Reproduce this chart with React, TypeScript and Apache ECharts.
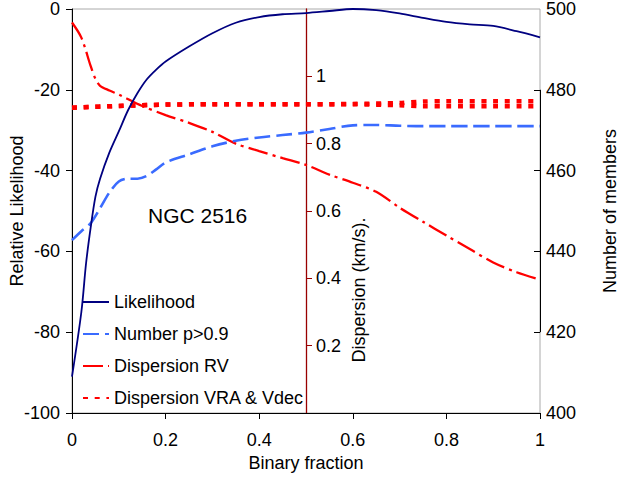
import React, { useEffect, useRef } from "react";
import * as echarts from "echarts";

// Binary fraction sample points
const likeX = [0, 0.02, 0.03, 0.04, 0.05, 0.06, 0.08, 0.1, 0.12, 0.14, 0.16, 0.18, 0.2, 0.25, 0.3, 0.35, 0.4, 0.45, 0.5, 0.55, 0.6, 0.65, 0.7, 0.75, 0.8, 0.85, 0.9, 0.95, 1];
const likeY = [-91, -75, -63, -54, -46.5, -42, -35.5, -30.3, -25, -20.8, -17.4, -15, -13, -9.3, -6, -3.4, -2, -1.3, -1, -0.5, 0, -0.3, -1.1, -2.2, -3.2, -3.8, -4.2, -5.5, -7];

const numX = [0, 0.02, 0.04, 0.06, 0.08, 0.1, 0.12, 0.14, 0.16, 0.18, 0.2, 0.25, 0.3, 0.35, 0.4, 0.45, 0.5, 0.55, 0.6, 0.65, 0.7, 0.75, 0.8, 0.85, 0.9, 0.95, 1];
const numY = [442.8, 445, 447, 450.7, 454.6, 457.3, 458, 458, 458.7, 460.3, 462, 464, 466, 467.4, 468.2, 468.8, 469.4, 470.3, 471.2, 471.3, 471.1, 471, 471, 471, 471, 471, 471];

const rvX = [0, 0.02, 0.04, 0.05, 0.06, 0.08, 0.1, 0.15, 0.2, 0.25, 0.3, 0.35, 0.4, 0.45, 0.5, 0.55, 0.6, 0.65, 0.7, 0.75, 0.8, 0.85, 0.9, 0.95, 1];
const rvY = [1.16, 1.115, 1.03, 0.993, 0.972, 0.958, 0.946, 0.912, 0.885, 0.862, 0.835, 0.8, 0.778, 0.757, 0.737, 0.708, 0.684, 0.657, 0.61, 0.568, 0.527, 0.487, 0.447, 0.418, 0.396];

const vX = [0, 0.1, 0.2, 0.3, 0.4, 0.5, 0.6, 0.7, 0.75, 0.8, 0.9, 1];
const vraY = [0.907, 0.912, 0.916, 0.917, 0.917, 0.917, 0.918, 0.921, 0.925, 0.926, 0.926, 0.926];
const vdecY = [0.907, 0.912, 0.916, 0.917, 0.917, 0.917, 0.917, 0.914, 0.911, 0.911, 0.911, 0.911];

const rightTickValues = [420, 440, 460, 480];
const blackSegment = [420, 480];

const seriesNames = ["Likelihood", "Number p>0.9", "Dispersion RV", "Dispersion VRA & Vdec"];

const zip = (xs: number[], ys: number[]) => xs.map((x, i) => [x, ys[i]]);

const FONT = "'Liberation Sans', Arial, Helvetica, sans-serif";
const FS = 18;

export default function App() {
  const ref = useRef<HTMLDivElement>(null);
  useEffect(() => {
    document.body.style.margin = "0";
    const chart = echarts.init(ref.current!, null, { renderer: "svg" });
    const labelStyle = { color: "#000", fontSize: FS, fontFamily: FONT };
    chart.setOption({
      animation: false,
      backgroundColor: "#fff",
      textStyle: { fontFamily: FONT },
      grid: {
        left: 72, right: 79, top: 9, bottom: 66,
        show: true, borderColor: "#aaaaaa", borderWidth: 1, backgroundColor: "transparent",
        containLabel: false, outerBoundsMode: "none",
      },
      legend: {
        data: seriesNames,
        orient: "vertical",
        left: 77,
        top: 288,
        itemWidth: 26,
        itemHeight: 12,
        itemGap: 14,
        itemStyle: { color: "transparent", borderWidth: 0, opacity: 0 },
        textStyle: { ...labelStyle },
      },
      xAxis: {
        type: "value",
        min: 0,
        max: 1,
        interval: 0.2,
        axisLine: { onZero: false, lineStyle: { color: "#000", width: 1 } },
        axisTick: { length: 6, lineStyle: { color: "#000" } },
        axisLabel: { ...labelStyle, margin: 18 },
        splitLine: { show: false },
        name: "Binary fraction",
        nameLocation: "middle",
        nameGap: 41,
        nameMoveOverlap: false,
        nameTextStyle: { ...labelStyle },
      },
      yAxis: [
        {
          type: "value",
          position: "left",
          min: -100,
          max: 0,
          interval: 20,
          axisLine: { show: true, onZero: false, lineStyle: { color: "#000", width: 1 } },
          axisTick: { show: true, length: 6, lineStyle: { color: "#000" } },
          axisLabel: { ...labelStyle, margin: 12 },
          splitLine: { show: false },
          name: "Relative Likelihood",
          nameLocation: "middle",
          nameGap: 46,
          nameRotate: 90,
          nameMoveOverlap: false,
          nameTextStyle: { ...labelStyle },
        },
        {
          type: "value",
          position: "right",
          min: 400,
          max: 500,
          interval: 20,
          axisLine: { show: false, onZero: false },
          axisTick: { show: true, inside: true, length: 6, customValues: rightTickValues, lineStyle: { color: "#000" } },
          axisLabel: { ...labelStyle, margin: 6 },
          splitLine: { show: false },
          name: "Number of members",
          nameLocation: "middle",
          nameGap: 61,
          nameRotate: 90,
          nameMoveOverlap: false,
          nameTextStyle: { ...labelStyle },
        },
        {
          type: "value",
          position: "right",
          offset: -234,
          min: 0,
          max: 1.2,
          interval: 0.2,
          axisLine: { show: true, onZero: false, lineStyle: { color: "#990000", width: 1.3 } },
          axisTick: { show: true, length: 6, lineStyle: { color: "#990000" } },
          axisLabel: { ...labelStyle, margin: 10, showMinLabel: false, showMaxLabel: false },
          splitLine: { show: false },
        },
      ],
      graphic: [
        {
          type: "text",
          left: 148,
          top: 205,
          style: { text: "NGC 2516", fontSize: 21, fontFamily: FONT, fill: "#000" },
        },
        {
          type: "text",
          x: 359,
          y: 290,
          rotation: Math.PI / 2,
          style: { text: "Dispersion (km/s).", fontSize: FS, fontFamily: FONT, fill: "#000", align: "center", verticalAlign: "middle" },
        },
      ],
      series: [
        {
          name: "Dispersion VRA & Vdec",
          type: "line",
          yAxisIndex: 2,
          data: zip(vX, vraY),
          symbol: "none",
          smooth: 0.3,
          lineStyle: { color: "#ff0000", width: 4.5, type: [5, 6.7] },
          itemStyle: { color: "#ff0000" },
        },
        {
          name: "Dispersion VRA & Vdec",
          type: "line",
          yAxisIndex: 2,
          data: zip(vX, vdecY),
          symbol: "none",
          smooth: 0.3,
          lineStyle: { color: "#ff0000", width: 4.5, type: [5, 6.7] },
          itemStyle: { color: "#ff0000" },
        },
        {
          name: "Dispersion RV",
          type: "line",
          yAxisIndex: 2,
          data: zip(rvX, rvY),
          symbol: "none",
          smooth: 0.3,
          lineStyle: { color: "#ff0000", width: 2.3, type: [20, 5, 3, 5] },
          itemStyle: { color: "#ff0000" },
        },
        {
          name: "Number p>0.9",
          type: "line",
          yAxisIndex: 1,
          data: zip(numX, numY),
          symbol: "none",
          smooth: 0.3,
          clip: false,
          lineStyle: { color: "#3a6bff", width: 2.6, type: [16, 6] },
          itemStyle: { color: "#3a6bff" },
          markLine: {
            silent: true,
            symbol: ["none", "none"],
            label: { show: false },
            lineStyle: { color: "#000", type: "solid", width: 1 },
            data: [[{ coord: [1, blackSegment[0]] }, { coord: [1, blackSegment[1]] }]],
          },
        },
        {
          name: "Likelihood",
          type: "line",
          yAxisIndex: 0,
          data: zip(likeX, likeY),
          symbol: "none",
          smooth: 0.3,
          lineStyle: { color: "#000080", width: 1.8 },
          itemStyle: { color: "#000080" },
        },
      ],
    });
    return () => chart.dispose();
  }, []);
  return <div ref={ref} style={{ width: 619, height: 479 }} />;
}
